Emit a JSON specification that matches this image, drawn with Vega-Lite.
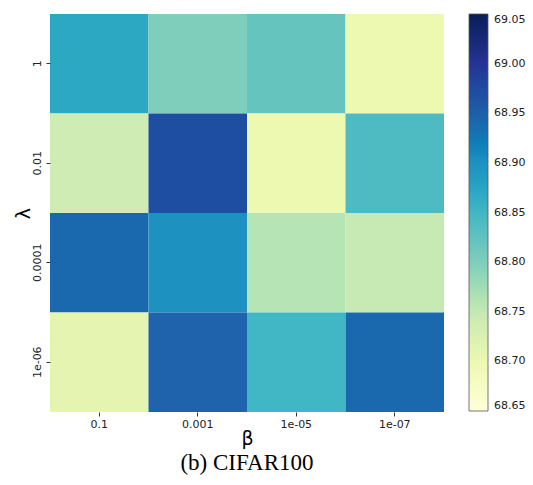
{
  "$schema": "https://vega.github.io/schema/vega-lite/v6.json",
  "autosize": "none",
  "width": 394,
  "height": 398,
  "padding": {"left": 50, "top": 14, "right": 89, "bottom": 73},
  "background": "white",
  "title": {"text": "(b) CIFAR100", "orient": "bottom", "font": "Liberation Serif", "fontSize": 23, "fontWeight": "normal", "color": "black", "offset": 4, "anchor": "middle"},
  "data": {"values": [
    {"lambda": "1", "beta": "0.1", "acc": 68.87},
    {"lambda": "1", "beta": "0.001", "acc": 68.80},
    {"lambda": "1", "beta": "1e-05", "acc": 68.82},
    {"lambda": "1", "beta": "1e-07", "acc": 68.70},
    {"lambda": "0.01", "beta": "0.1", "acc": 68.74},
    {"lambda": "0.01", "beta": "0.001", "acc": 68.97},
    {"lambda": "0.01", "beta": "1e-05", "acc": 68.70},
    {"lambda": "0.01", "beta": "1e-07", "acc": 68.84},
    {"lambda": "0.0001", "beta": "0.1", "acc": 68.94},
    {"lambda": "0.0001", "beta": "0.001", "acc": 68.90},
    {"lambda": "0.0001", "beta": "1e-05", "acc": 68.76},
    {"lambda": "0.0001", "beta": "1e-07", "acc": 68.75},
    {"lambda": "1e-06", "beta": "0.1", "acc": 68.71},
    {"lambda": "1e-06", "beta": "0.001", "acc": 68.945},
    {"lambda": "1e-06", "beta": "1e-05", "acc": 68.85},
    {"lambda": "1e-06", "beta": "1e-07", "acc": 68.94}
  ]},
  "mark": {"type": "rect"},
  "encoding": {
    "x": {"field": "beta", "type": "nominal", "sort": ["0.1", "0.001", "1e-05", "1e-07"],
      "scale": {"paddingInner": 0, "paddingOuter": 0},
      "axis": {"title": "β", "titleFont": "DejaVu Sans", "titleFontSize": 19, "titleFontWeight": "normal", "titleColor": "black", "titlePadding": 0,
        "labelFont": "DejaVu Sans", "labelFontSize": 11, "labelColor": "#222", "labelAngle": 0, "labelPadding": 2,
        "domain": false, "ticks": true, "tickSize": 4, "tickColor": "#333"}},
    "y": {"field": "lambda", "type": "nominal", "sort": ["1", "0.01", "0.0001", "1e-06"],
      "scale": {"paddingInner": 0, "paddingOuter": 0},
      "axis": {"title": "λ", "titleFont": "DejaVu Sans", "titleFontSize": 19, "titleFontWeight": "normal", "titleColor": "black", "titlePadding": -2,
        "labelFont": "DejaVu Sans", "labelFontSize": 11, "labelColor": "#222", "labelAngle": 270, "labelAlign": "center", "labelBaseline": "bottom", "labelPadding": 4,
        "domain": false, "ticks": true, "tickSize": 4, "tickColor": "#333"}},
    "color": {"field": "acc", "type": "quantitative",
      "scale": {"domain": [68.65, 68.70, 68.75, 68.80, 68.85, 68.90, 68.95, 69.00, 69.05],
        "range": ["#ffffd9", "#edf8b1", "#c7e9b4", "#7fcdbb", "#41b6c4", "#1d91c0", "#225ea8", "#253494", "#081d58"]},
      "legend": {"title": null, "gradientLength": 397, "gradientThickness": 19, "offset": 25,
        "values": [68.65, 68.70, 68.75, 68.80, 68.85, 68.90, 68.95, 69.00, 69.05],
        "format": ".2f", "labelFont": "DejaVu Sans", "labelFontSize": 11, "labelColor": "#222",
        "gradientStrokeColor": "#555", "gradientStrokeWidth": 0.8, "labelOffset": 6}}
  },
  "config": {"view": {"stroke": null}}
}
